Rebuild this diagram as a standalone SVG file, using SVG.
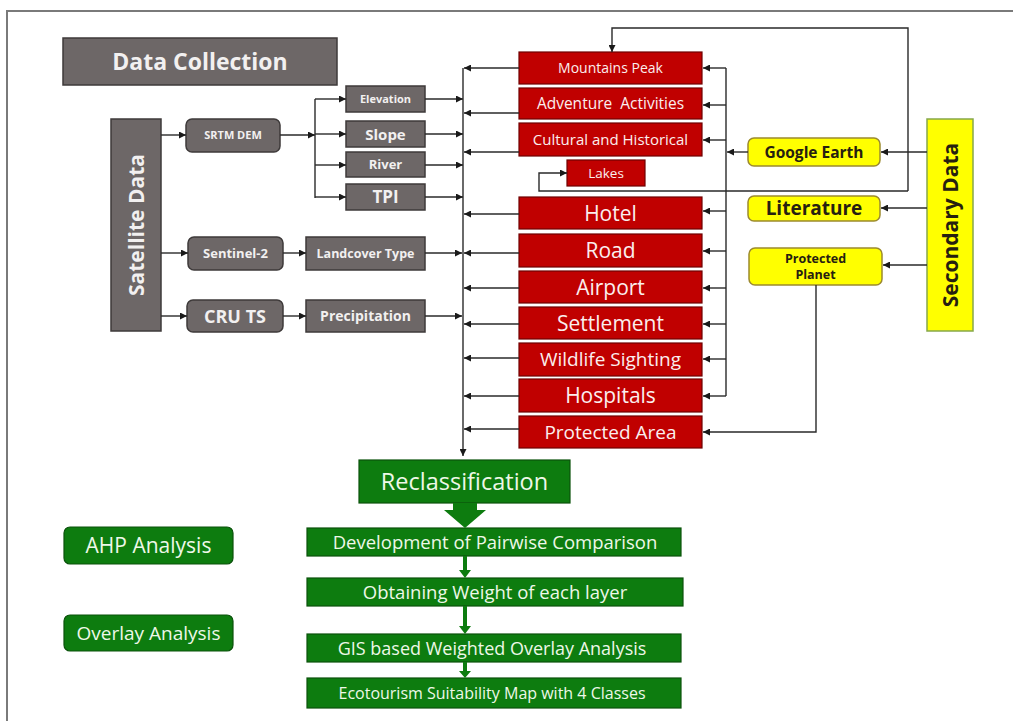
<svg xmlns="http://www.w3.org/2000/svg" width="1013" height="721" viewBox="0 0 1013 721">
<defs>
<marker id="ah" viewBox="0 0 10 10" refX="10" refY="5" markerWidth="8" markerHeight="7" markerUnits="userSpaceOnUse" orient="auto">
<path d="M0,0 L10,5 L0,10 Z" fill="#1a1a1a"/>
</marker>
<style>
.gray{fill:#6d6767;stroke:#3e3a3a;stroke-width:1.5}
.red{fill:#c00000;stroke:#6e0000;stroke-width:1.2}
.yel{fill:#ffff00;stroke:#9c8a2e;stroke-width:1.5}
.grn{fill:#0d7c0f;stroke:#0a520b;stroke-width:1.2}
.c{fill:none;stroke:#2a2a2a;stroke-width:1.4;marker-end:url(#ah)}
.l{fill:none;stroke:#2a2a2a;stroke-width:1.4}
text{font-family:"Open Sans","Liberation Sans",sans-serif;text-anchor:middle}
.tg{fill:#f2f0f0;font-weight:bold}
.tr{fill:#fbeeee}
.ty{fill:#262010;font-weight:bold}
.tn{fill:#eef8e8}
</style>
</defs>
<rect width="1013" height="721" fill="#ffffff"/>
<path d="M7,721 V11 H1013" fill="none" stroke="#7a7a7a" stroke-width="2"/>

<g id="data-collection"><rect class="gray" x="63" y="38" width="274" height="47"/><text class="tg" x="200" y="69.5" font-size="23">Data Collection</text></g>
<g id="satellite-data"><rect class="gray" x="111" y="119" width="50" height="212"/><text class="tg" x="0" y="0" font-size="21" transform="translate(144,225) rotate(-90)">Satellite Data</text></g>
<g id="srtm-dem"><rect class="gray" x="186" y="119" width="94" height="33" rx="6"/><text class="tg" x="233" y="139" font-size="11">SRTM DEM</text></g>
<g id="elevation"><rect class="gray" x="346" y="86" width="79" height="26"/><text class="tg" x="385.5" y="103" font-size="11">Elevation</text></g>
<g id="slope"><rect class="gray" x="346" y="121" width="79" height="26"/><text class="tg" x="385.5" y="139.5" font-size="15">Slope</text></g>
<g id="river"><rect class="gray" x="346" y="152" width="79" height="25"/><text class="tg" x="385.5" y="169" font-size="13">River</text></g>
<g id="tpi"><rect class="gray" x="346" y="184" width="79" height="26"/><text class="tg" x="385.5" y="203" font-size="17">TPI</text></g>
<g id="sentinel-2"><rect class="gray" x="188" y="237" width="95" height="33" rx="6"/><text class="tg" x="235.5" y="258" font-size="13">Sentinel-2</text></g>
<g id="landcover-type"><rect class="gray" x="306" y="237" width="119" height="33"/><text class="tg" x="365.5" y="258" font-size="12.5">Landcover Type</text></g>
<g id="cru-ts"><rect class="gray" x="187" y="300" width="96" height="32" rx="6"/><text class="tg" x="235" y="322.5" font-size="18">CRU TS</text></g>
<g id="precipitation"><rect class="gray" x="306" y="300" width="119" height="32"/><text class="tg" x="365.5" y="321" font-size="14">Precipitation</text></g>

<g id="mountains-peak"><rect class="red" x="519" y="52" width="183" height="32"/><text class="tr" x="610.5" y="73" font-size="14">Mountains Peak</text></g>
<g id="adventure-activities"><rect class="red" x="519" y="88" width="183" height="31"/><text class="tr" x="610.5" y="109" font-size="15.5" xml:space="preserve">Adventure  Activities</text></g>
<g id="cultural-historical"><rect class="red" x="519" y="123" width="183" height="33"/><text class="tr" x="610.5" y="145" font-size="15">Cultural and Historical</text></g>
<g id="lakes"><rect class="red" x="567" y="160" width="78" height="26"/><text class="tr" x="606" y="177.5" font-size="13.5">Lakes</text></g>
<g id="hotel"><rect class="red" x="519" y="197" width="183" height="32"/><text class="tr" x="610.5" y="220.5" font-size="21">Hotel</text></g>
<g id="road"><rect class="red" x="519" y="234" width="183" height="33"/><text class="tr" x="610.5" y="257.5" font-size="21">Road</text></g>
<g id="airport"><rect class="red" x="519" y="271" width="183" height="32"/><text class="tr" x="610.5" y="294.5" font-size="21">Airport</text></g>
<g id="settlement"><rect class="red" x="519" y="307" width="183" height="32"/><text class="tr" x="610.5" y="330.5" font-size="21">Settlement</text></g>
<g id="wildlife-sighting"><rect class="red" x="519" y="343" width="183" height="33"/><text class="tr" x="610.5" y="366" font-size="19">Wildlife Sighting</text></g>
<g id="hospitals"><rect class="red" x="519" y="379" width="183" height="33"/><text class="tr" x="610.5" y="403" font-size="21">Hospitals</text></g>
<g id="protected-area"><rect class="red" x="519" y="416" width="183" height="32"/><text class="tr" x="610.5" y="438.5" font-size="19">Protected Area</text></g>

<g id="google-earth"><rect class="yel" x="748" y="138" width="132" height="28" rx="6"/><text class="ty" x="814" y="157.5" font-size="15.5">Google Earth</text></g>
<g id="literature"><rect class="yel" x="748" y="196" width="132" height="25" rx="6"/><text class="ty" x="814" y="215" font-size="19">Literature</text></g>
<g id="protected-planet"><rect class="yel" x="749" y="248" width="133" height="37" rx="6"/><text class="ty" x="815.5" y="263" font-size="12.5" fill="#3a3410">Protected</text><text class="ty" x="815.5" y="279" font-size="12.5">Planet</text></g>
<g id="secondary-data"><rect x="927" y="119" width="46" height="212" fill="#ffff00" stroke="#86a84a" stroke-width="1.5"/><text class="ty" x="0" y="0" font-size="21" transform="translate(958,225) rotate(-90)">Secondary Data</text></g>

<g id="reclassification"><rect class="grn" x="359" y="460" width="211" height="43"/><text class="tn" x="464.5" y="490" font-size="23.5">Reclassification</text></g>
<g id="pairwise"><rect class="grn" x="307" y="528" width="374" height="28"/><text class="tn" x="495" y="548.5" font-size="18.5">Development of Pairwise Comparison</text></g>
<g id="weight"><rect class="grn" x="307" y="578" width="376" height="28"/><text class="tn" x="495" y="598.5" font-size="18.5">Obtaining Weight of each layer</text></g>
<g id="weighted-overlay"><rect class="grn" x="307" y="634" width="374" height="28"/><text class="tn" x="492" y="654.5" font-size="18">GIS based Weighted Overlay Analysis</text></g>
<g id="suitability-map"><rect class="grn" x="307" y="678" width="374" height="30"/><text class="tn" x="492" y="698.5" font-size="16">Ecotourism Suitability Map with 4 Classes</text></g>
<g id="ahp-analysis"><rect class="grn" x="64" y="527" width="169" height="37" rx="6"/><text class="tn" x="148.5" y="552.5" font-size="21">AHP Analysis</text></g>
<g id="overlay-analysis"><rect class="grn" x="64" y="615" width="169" height="36" rx="6"/><text class="tn" x="148.5" y="639.5" font-size="19">Overlay Analysis</text></g>

<g id="connectors">
<path class="c" d="M161,135 H186"/>
<path class="c" d="M161,253 H188"/>
<path class="c" d="M161,316 H187"/>
<path class="c" d="M280,135 H315"/>
<path class="l" d="M315,99 V198"/>
<path class="c" d="M315,99 H346"/>
<path class="c" d="M315,134 H346"/>
<path class="c" d="M315,165 H346"/>
<path class="c" d="M315,197 H346"/>
<path class="c" d="M425,99 H463"/>
<path class="c" d="M425,134 H463"/>
<path class="c" d="M425,165 H463"/>
<path class="c" d="M425,197 H463"/>
<path class="c" d="M283,253 H306"/>
<path class="c" d="M283,316 H306"/>
<path class="c" d="M425,253 H462"/>
<path class="c" d="M425,316 H462"/>
<path class="c" d="M463,68 V456"/>
<path class="c" d="M519,68 H464"/>
<path class="c" d="M519,113 H464"/>
<path class="c" d="M519,152 H464"/>
<path class="c" d="M519,214 H464"/>
<path class="c" d="M519,253 H464"/>
<path class="c" d="M519,288 H464"/>
<path class="c" d="M519,324 H464"/>
<path class="c" d="M519,358 H464"/>
<path class="c" d="M519,396 H464"/>
<path class="c" d="M519,429 H464"/>
<path class="l" d="M726,68 V396"/>
<path class="c" d="M726,68 H703"/>
<path class="c" d="M726,105 H703"/>
<path class="c" d="M726,140 H703"/>
<path class="c" d="M726,211 H703"/>
<path class="c" d="M726,251 H703"/>
<path class="c" d="M726,288 H703"/>
<path class="c" d="M726,324 H703"/>
<path class="c" d="M726,359 H703"/>
<path class="c" d="M726,396 H703"/>
<path class="c" d="M748,152 H727"/>
<path class="c" d="M927,152 H881"/>
<path class="c" d="M927,208 H881"/>
<path class="c" d="M927,265 H883"/>
<path class="c" d="M816,285 V432 H703"/>
<path class="c" d="M908,191 H539 V173 H567"/>
<path class="c" d="M908,191 V28 H612 V52"/>
<polygon points="453,503 477,503 477,510 486,510 465,528 444,510 453,510" fill="#0d7c0f"/>
<polygon points="463,556 467,556 467,570 471,570 465,578 459,570 463,570" fill="#0d7c0f"/>
<polygon points="463,606 467,606 467,626 471,626 465,634 459,626 463,626" fill="#0d7c0f"/>
<polygon points="463,662 467,662 467,671 471,671 465,678 459,671 463,671" fill="#0d7c0f"/>
</g>
</svg>
